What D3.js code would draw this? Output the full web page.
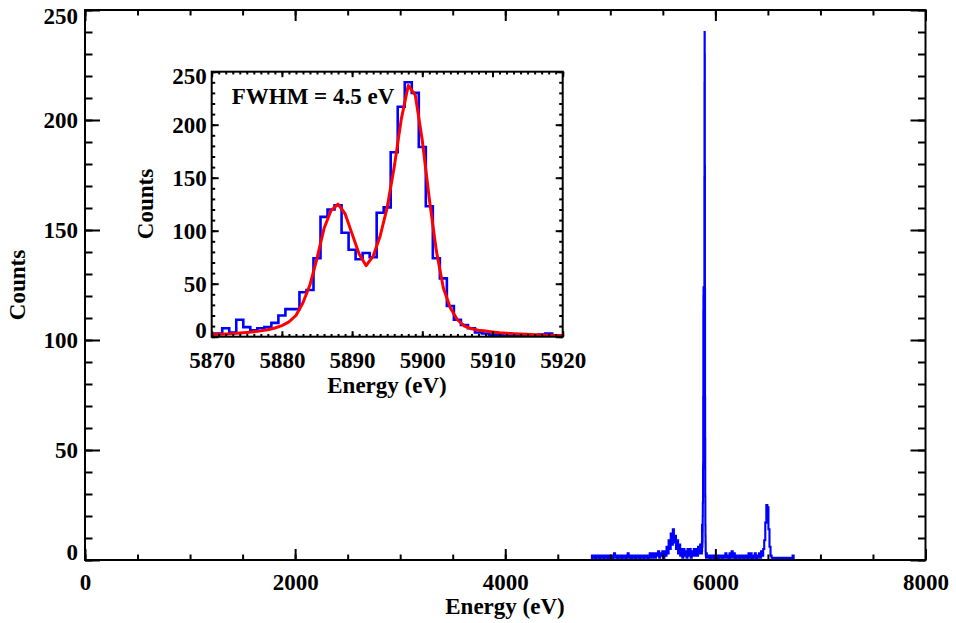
<!DOCTYPE html>
<html>
<head>
<meta charset="utf-8">
<script src="https://cdn.jsdelivr.net/npm/d3@7"></script>
<style>
body { margin: 0; background: #fff; }
text { font-family: "Liberation Serif", "Times New Roman", serif; font-weight: bold; }
</style>
</head>
<body>
<div id="chart"></div>
<script>
// counts
// full spectrum below the inset window, 10 eV bins from 4820 eV
var lowCounts = [
  0,2,1,2,0,2,1,2,0,2,
  1,2,0,2,1,2,0,2,1,2,
  0,1,3,1,2,0,2,1,2,0,
  2,1,2,0,2,3,1,2,0,2,
  1,2,0,2,1,2,0,2,1,2,
  0,2,1,2,0,2,3,1,3,1,
  3,1,3,2,4,1,3,2,4,1,
  4,2,6,3,9,5,12,7,14,8,
  11,5,9,3,7,2,5,1,5,2,
  4,1,5,2,5,1,4,2,5,2,
  5,2,6,3,7
];
// inset window, 1 eV bins 5870..5920
var insetCounts = [
  3,3,8,4,16,9,6,8,9,13,
  20,26,26,42,44,74,113,120,124,98,
  82,73,79,75,117,122,174,217,240,230,
  179,123,74,55,29,16,11,8,4,3,
  2,2,1,1,1,1,1,2,3,1,
  1
];
var fitCounts = [
  2,2.2,2.5,2.9,3.4,4,4.7,5.5,6.5,8.2,
  10.5,14,20,32,49,74,102,119,125,116,
  97,78,67,76,95,122,160,205,237,228,
  185,130,81,46,27,16,10,7.5,6.2,5.3,
  4.5,3.8,3.3,2.9,2.5,2.2,1.9,1.7,1.4,1.2,
  1
];
// above the inset window, 10 eV bins from 5930 eV
var highCounts = [
  1,2,0,2,1,2,0,2,1,2,
  0,2,1,2,0,2,1,3,1,2,
  0,3,1,4,1,3,0,2,1,2,
  0,2,1,2,0,2,1,2,0,3,
  1,3,0,2,1,3,0,2,1,3,
  1,4,2,5,9,17,25,24,14,6,
  2,1,0,1,0,0,1,0,0,1,
  0,0,1,0,0,1,0,0,1,0,
  0,2,0
];
var lowE = d3.range(4820, 5861, 10);
var insetE = d3.range(5870, 5921, 1);
var highE = d3.range(5930, 6751, 10);

var mainXTicks = [0, 2000, 4000, 6000, 8000];
var mainYTicks = [0, 50, 100, 150, 200, 250];
var insetXTicks = [5870, 5880, 5890, 5900, 5910, 5920];
var insetYTicks = [0, 50, 100, 150, 200, 250];

var fontSize = 23;
var noLabel = function() { return ''; };

var svg = d3.select('#chart').append('svg')
  .attr('width', 956)
  .attr('height', 623);

function styleText(g) {
  g.attr('font-family', null).attr('font-size', null);
  g.selectAll('text')
    .attr('font-size', fontSize)
    .attr('fill', '#000');
  g.selectAll('line').attr('stroke', '#000').attr('stroke-width', 2);
}

// draws a boxed frame with major/minor ticks on all four sides
function frame(xs, ys, o) {
  var x0 = xs.range()[0], x1 = xs.range()[1];
  var y0 = ys.range()[0], y1 = ys.range()[1];

  var g = svg.append('g');

  // minor ticks
  [[d3.axisBottom, y0], [d3.axisTop, y1]].forEach(function(a) {
    var ax = a[0](xs).tickValues(o.xMinor).tickFormat(noLabel).tickSizeInner(-o.xLen / 2).tickSizeOuter(0);
    var t = g.append('g').attr('transform', 'translate(0,' + a[1] + ')').call(ax);
    t.select('.domain').remove();
    styleText(t);
  });
  [[d3.axisLeft, x0], [d3.axisRight, x1]].forEach(function(a) {
    var ax = a[0](ys).tickValues(o.yMinor).tickFormat(noLabel).tickSizeInner(-o.yLen / 2).tickSizeOuter(0);
    var t = g.append('g').attr('transform', 'translate(' + a[1] + ',0)').call(ax);
    t.select('.domain').remove();
    styleText(t);
  });

  // major ticks, labels on bottom and left
  var bx = g.append('g').attr('transform', 'translate(0,' + y0 + ')')
    .call(d3.axisBottom(xs).tickValues(o.xMajor).tickFormat(d3.format('d'))
      .tickSizeInner(-o.xLen).tickSizeOuter(0).tickPadding(o.xPad));
  bx.select('.domain').remove();
  styleText(bx);

  var tx = g.append('g').attr('transform', 'translate(0,' + y1 + ')')
    .call(d3.axisTop(xs).tickValues(o.xMajor).tickFormat(noLabel)
      .tickSizeInner(-o.xLen).tickSizeOuter(0));
  tx.select('.domain').remove();
  styleText(tx);

  var ly = g.append('g').attr('transform', 'translate(' + x0 + ',0)')
    .call(d3.axisLeft(ys).tickValues(o.yMajor).tickFormat(d3.format('d'))
      .tickSizeInner(-o.yLen).tickSizeOuter(0).tickPadding(o.yPad));
  ly.select('.domain').remove();
  styleText(ly);
  // end labels are kept inside the axis span
  var yd = ys.domain();
  ly.selectAll('text').attr('y', function(d) {
    if (d === yd[0]) return -o.clampLow;
    if (d === yd[1]) return o.clampHigh;
    return 0;
  });

  var ry = g.append('g').attr('transform', 'translate(' + x1 + ',0)')
    .call(d3.axisRight(ys).tickValues(o.yMajor).tickFormat(noLabel)
      .tickSizeInner(-o.yLen).tickSizeOuter(0));
  ry.select('.domain').remove();
  styleText(ry);

  g.append('rect')
    .attr('x', x0).attr('y', y1)
    .attr('width', x1 - x0).attr('height', y0 - y1)
    .attr('fill', 'none')
    .attr('stroke', '#000')
    .attr('stroke-width', 2);
}

// ---- main plot ----
var x = d3.scaleLinear().domain([0, 8000]).range([85, 925.5]);
var y = d3.scaleLinear().domain([0, 250]).range([560, 10]);

var mainE = lowE.concat(insetE, highE);
var mainCounts = lowCounts.concat(insetCounts, highCounts);

var mainLine = d3.line()
  .curve(d3.curveStep)
  .x(function(d, i) { return x(mainE[i]); })
  .y(function(d) { return y(d); });

svg.append('path')
  .datum(mainCounts)
  .attr('d', mainLine)
  .attr('fill', 'none')
  .attr('stroke', '#0000ff')
  .attr('stroke-width', 2.1);

frame(x, y, {
  xMajor: mainXTicks, xMinor: d3.range(0, 8001, 500),
  yMajor: mainYTicks, yMinor: d3.range(0, 251, 10),
  xLen: 11, yLen: 15, xPad: 14, yPad: 7,
  clampLow: 7.5, clampHigh: 6
});

svg.append('text')
  .attr('x', 505).attr('y', 614)
  .attr('text-anchor', 'middle')
  .attr('font-size', fontSize)
  .text('Energy (eV)');

svg.append('text')
  .attr('transform', 'translate(25,285) rotate(-90)')
  .attr('text-anchor', 'middle')
  .attr('font-size', fontSize)
  .text('Counts');

// ---- inset ----
var ix = d3.scaleLinear().domain([5870, 5920]).range([211.7, 562.7]);
var iy = d3.scaleLinear().domain([0, 250]).range([336.7, 71.7]);

svg.append('rect')
  .attr('x', 211.7).attr('y', 71.7)
  .attr('width', 351).attr('height', 265)
  .attr('fill', '#fff');

var histLine = d3.line()
  .curve(d3.curveStep)
  .x(function(d, i) { return ix(insetE[i]); })
  .y(function(d) { return iy(d); });

svg.append('path')
  .datum(insetCounts)
  .attr('d', histLine)
  .attr('fill', 'none')
  .attr('stroke', '#0000ff')
  .attr('stroke-width', 2.6);

var fitLine = d3.line()
  .x(function(d, i) { return ix(insetE[i]); })
  .y(function(d) { return iy(d); });

svg.append('path')
  .datum(fitCounts)
  .attr('d', fitLine)
  .attr('fill', 'none')
  .attr('stroke', '#ff0000')
  .attr('stroke-width', 3)
  .attr('stroke-linejoin', 'round');

frame(ix, iy, {
  xMajor: insetXTicks, xMinor: d3.range(5870, 5921, 1),
  yMajor: insetYTicks, yMinor: d3.range(0, 251, 10),
  xLen: 5.5, yLen: 7, xPad: 15, yPad: 5,
  clampLow: 7, clampHigh: 4
});

svg.append('text')
  .attr('x', 387).attr('y', 393)
  .attr('text-anchor', 'middle')
  .attr('font-size', fontSize)
  .text('Energy (eV)');

svg.append('text')
  .attr('transform', 'translate(153,204) rotate(-90)')
  .attr('text-anchor', 'middle')
  .attr('font-size', fontSize)
  .text('Counts');

svg.append('text')
  .attr('x', 231.7).attr('y', 104)
  .attr('font-size', fontSize)
  .text('FWHM = 4.5 eV');
</script>
</body>
</html>
